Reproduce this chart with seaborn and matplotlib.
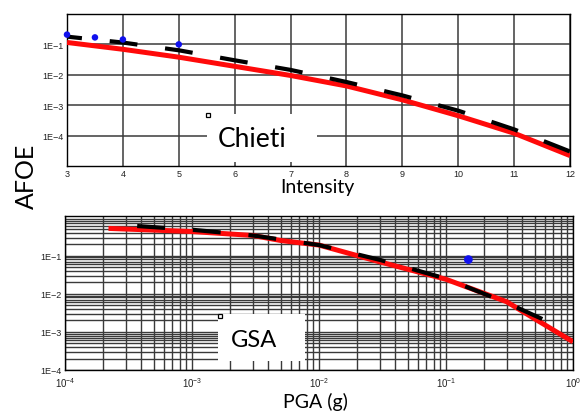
import numpy as np
import pandas as pd
import matplotlib
matplotlib.use("Agg")
import matplotlib.pyplot as plt
import seaborn as sns
from matplotlib.ticker import FixedLocator, FixedFormatter, LogLocator, LogFormatterSciNotation, NullFormatter
from matplotlib.lines import Line2D
from matplotlib.patches import Rectangle

# ---------------- data ----------------
# Top panel (Chieti) - macroseismic intensity
intensity = [3, 4, 5, 6, 7, 8, 9, 10, 11, 12]
red_afoe_int = [0.116, 0.069, 0.038, 0.019, 0.0095, 0.0043, 0.0015, 4.5e-4, 1.2e-4, 2.2e-5]
black_afoe_int = [0.18, 0.115, 0.064, 0.030, 0.0145, 0.0058, 0.0021, 6.6e-4, 1.6e-4, 3.0e-5]
obs_int = [3, 3.5, 4, 5]
obs_afoe_int = [0.21, 0.17, 0.145, 0.10]

# Bottom panel (GSA) - PGA
red_pga = [2.2e-4, 1e-3, 3e-3, 5e-3, 1e-2, 3e-2, 1e-1, 3e-1, 5e-1, 1.0]
red_afoe_pga = [0.52, 0.43, 0.34, 0.25, 0.19, 0.069, 0.024, 0.0062, 0.0022, 5.5e-4]
black_pga = [3.7e-4, 1e-3, 3e-3, 1e-2, 3e-2, 1e-1, 3e-1, 6.5e-1]
black_afoe_pga = [0.60, 0.48, 0.34, 0.19, 0.078, 0.025, 0.0058, 0.0018]
obs_pga = [0.15]
obs_afoe_pga = [0.079]

ytick_vals = [1e-1, 1e-2, 1e-3, 1e-4]
ytick_labels = ["1E\u22121", "1E\u22122", "1E\u22123", "1E\u22124"]

# ---------------- figure ----------------
sns.set_theme(style="white")
plt.rcParams['font.family'] = ['Liberation Sans', 'DejaVu Sans']
plt.rcParams['mathtext.fontset'] = 'dejavusans'

fig = plt.figure(figsize=(5.81, 4.14), dpi=100)
fig.patch.set_facecolor("white")

ax1 = fig.add_axes([67/581, 1-167/414, 503/581, 152/414])
ax2 = fig.add_axes([65/581, 1-371/414, 508/581, 154/414])

grid_col = "#3a3a3a"

# ----- top panel -----
ax1.set_yscale("log")
ax1.set_xlim(3, 12)
ax1.set_ylim(1e-5, 1)
ax1.xaxis.set_major_locator(FixedLocator(intensity))
ax1.yaxis.set_major_locator(FixedLocator(ytick_vals))
ax1.yaxis.set_major_formatter(FixedFormatter(ytick_labels))
ax1.yaxis.set_minor_locator(FixedLocator([]))
ax1.grid(True, which="major", color=grid_col, lw=1.1)
ax1.set_axisbelow(True)

sns.lineplot(x=intensity, y=red_afoe_int, ax=ax1, color="#ff0a0a", lw=3.6,
             solid_capstyle="butt", zorder=3)
sns.lineplot(x=intensity, y=black_afoe_int, ax=ax1, color="black", lw=3.0,
             linestyle=(3.1, (6.7, 6.7)), dash_capstyle="butt", zorder=4)
sns.scatterplot(x=obs_int, y=obs_afoe_int, ax=ax1, color="#1010ee", s=22,
                edgecolor="none", zorder=5, clip_on=False)

# ----- bottom panel -----
ax2.set_xscale("log")
ax2.set_yscale("log")
ax2.set_xlim(1e-4, 1)
ax2.set_ylim(1e-4, 1.1)
ax2.yaxis.set_major_locator(FixedLocator(ytick_vals))
ax2.yaxis.set_major_formatter(FixedFormatter(ytick_labels))
ax2.yaxis.set_minor_locator(LogLocator(base=10, subs=np.arange(2, 10), numticks=20))
ax2.yaxis.set_minor_formatter(NullFormatter())
ax2.xaxis.set_major_locator(LogLocator(base=10, numticks=10))
ax2.xaxis.set_major_formatter(LogFormatterSciNotation())
ax2.xaxis.set_minor_locator(LogLocator(base=10, subs=np.arange(2, 10), numticks=20))
ax2.xaxis.set_minor_formatter(NullFormatter())
ax2.grid(True, which="both", color=grid_col, lw=1.0)
ax2.set_axisbelow(True)

sns.lineplot(x=red_pga, y=red_afoe_pga, ax=ax2, color="#ff0a0a", lw=3.6,
             solid_capstyle="butt", zorder=3)
sns.lineplot(x=black_pga, y=black_afoe_pga, ax=ax2, color="black", lw=3.0,
             linestyle=(0, (6.7, 6.7)), dash_capstyle="butt", zorder=4)
sns.scatterplot(x=obs_pga, y=obs_afoe_pga, ax=ax2, color="#1010ee", s=40,
                edgecolor="none", zorder=5)

for ax in (ax1, ax2):
    ax.set_xlabel("")
    ax.set_ylabel("")
    ax.tick_params(axis="both", which="both", length=0, labelsize=6.5,
                   pad=2.5, colors="#222222")
    for s in ax.spines.values():
        s.set_color("black")
        s.set_linewidth(1.0)
    if ax.get_legend():
        ax.get_legend().remove()

ax2.tick_params(axis="x", labelsize=7, pad=3.5)

# ---------------- labels ----------------
lbl_font = ['Lato', 'DejaVu Sans']
fig.text(26/581, 1-176/414, "AFOE", rotation=90, ha="center", va="center",
         fontsize=18, family=lbl_font, color="black")
fig.text(317/581, 1-188/414, "Intensity", ha="center", va="center",
         fontsize=14, family=lbl_font, color="black")
fig.text(315/581, 1-402/414, "PGA (g)", ha="center", va="center",
         fontsize=14, family=lbl_font, color="black")

# white text boxes
fig.add_artist(Rectangle((207/581, 1-163/414), 110/581, 48/414,
                         transform=fig.transFigure, facecolor="white",
                         edgecolor="none", zorder=10))
fig.text(252/581, 1-140/414, "Chieti", ha="center", va="center",
         fontsize=19, family=lbl_font, color="black", zorder=11)
fig.add_artist(Line2D([208/581], [1-116/414], transform=fig.transFigure,
                      marker="s", markersize=3, markerfacecolor="white",
                      markeredgecolor="black", markeredgewidth=0.9, zorder=12))

fig.add_artist(Rectangle((218/581, 1-362/414), 87/581, 47/414,
                         transform=fig.transFigure, facecolor="white",
                         edgecolor="none", zorder=10))
fig.text(254/581, 1-341/414, "GSA", ha="center", va="center",
         fontsize=17, family=lbl_font, color="black", zorder=11)
fig.add_artist(Line2D([220/581], [1-317/414], transform=fig.transFigure,
                      marker="s", markersize=3, markerfacecolor="white",
                      markeredgecolor="black", markeredgewidth=0.9, zorder=12))

fig.savefig("out.png", dpi=100, facecolor="white")
